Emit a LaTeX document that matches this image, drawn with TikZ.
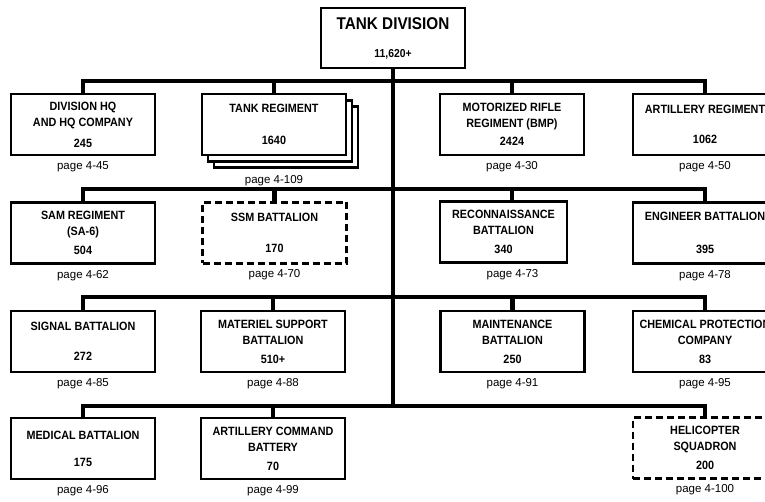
\documentclass[tikz,border=0pt]{standalone}
\usepackage{fontspec}
\setmainfont{Liberation Sans}
\newfontfamily\unitfont{Liberation Sans}[FakeStretch=0.9]
\usetikzlibrary{positioning}

\begin{document}
\begin{tikzpicture}[x=1pt, y=1pt,
    unit/.style={draw, fill=white, line width=2.6pt, minimum width=144pt, minimum height=61pt,
        inner sep=0pt, align=center, font=\unitfont\fontsize{12}{16}\selectfont\bfseries},
    planned/.style={unit, line width=2.2pt, dash pattern=on 7pt off 4pt},
    pagelbl/.style={inner sep=0pt, font=\fontsize{11.5}{13}\selectfont},
    bus/.style={line width=4.5pt, line join=miter}]

    \useasboundingbox (0,0) rectangle (765,-502);

    % Divisione
    \node[unit, minimum height=60pt] (div) at (393,-38)
        {{\fontsize{17}{18}\selectfont TANK DIVISION}\\[12pt]{\fontsize{11.5}{14}\selectfont 11,620+}};

    % Barre orizzontali
    \coordinate (b1) at (393,-81);
    \coordinate (b2) at (393,-189);
    \coordinate (b3) at (393,-297);
    \coordinate (b4) at (393,-406);

    % Prima fila
    \node[unit] (hq) at (83,-124.5) {DIVISION HQ\\AND HQ COMPANY\\[5pt]245};
    \node[unit] (tank3) at (286,-137) {};
    \node[unit] (tank2) at (280,-131) {};
    \node[unit] (tank) at (274,-124.5) {TANK REGIMENT\\[16pt]1640};
    \node[unit] (rifle) at (512,-124.5) {MOTORIZED RIFLE\\REGIMENT (BMP)\\[2pt]2424};
    \node[unit] (art) at (705,-124.5) {ARTILLERY REGIMENT\\[14pt]1062};

    \node[pagelbl, below=5pt of hq] (hqpg) {page 4-45};
    \node[pagelbl, below=6pt of tank3, xshift=-12pt] (tankpg) {page 4-109};
    \node[pagelbl, below=5pt of rifle] (riflepg) {page 4-30};
    \node[pagelbl, below=5pt of art] (artpg) {page 4-50};

    % Seconda fila
    \node[unit] (sam) at (83,-233) {SAM REGIMENT\\(SA-6)\\[3pt]504};
    \node[planned] (ssm) at (274.5,-233) {SSM BATTALION\\[15pt]170};
    \node[unit, minimum width=127pt] (recon) at (503.5,-232) {RECONNAISSANCE\\BATTALION\\[3pt]340};
    \node[unit] (eng) at (705,-233) {ENGINEER BATTALION\\[17pt]395};

    \node[pagelbl, below=5pt of sam] (sampg) {page 4-62};
    \node[pagelbl, below=5pt of ssm] (ssmpg) {page 4-70};
    \node[pagelbl, below=5pt of recon, xshift=9pt] (reconpg) {page 4-73};
    \node[pagelbl, below=5pt of eng] (engpg) {page 4-78};

    % Terza fila
    \node[unit] (sig) at (83,-341.5) {SIGNAL BATTALION\\[14pt]272};
    \node[unit] (mat) at (273,-341.5) {MATERIEL SUPPORT\\BATTALION\\[3pt]510+};
    \node[unit] (maint) at (512.5,-341.5) {MAINTENANCE\\BATTALION\\[3pt]250};
    \node[unit] (chem) at (705,-341.5) {CHEMICAL PROTECTION\\COMPANY\\[3pt]83};

    \node[pagelbl, below=5pt of sig] (sigpg) {page 4-85};
    \node[pagelbl, below=5pt of mat] (matpg) {page 4-88};
    \node[pagelbl, below=5pt of maint] (maintpg) {page 4-91};
    \node[pagelbl, below=5pt of chem] (chempg) {page 4-95};

    % Quarta fila
    \node[unit] (med) at (83,-448.5) {MEDICAL BATTALION\\[11pt]175};
    \node[unit] (acb) at (273,-448.5) {ARTILLERY COMMAND\\BATTERY\\[3pt]70};
    \node[planned] (heli) at (705,-448) {HELICOPTER\\SQUADRON\\[3pt]200};

    \node[pagelbl, below=5pt of med] (medpg) {page 4-96};
    \node[pagelbl, below=5pt of acb] (acbpg) {page 4-99};
    \node[pagelbl, below=5pt of heli] (helipg) {page 4-100};

    % Collegamenti
    \draw[bus] (div.south) -- (div.south |- b4);
    \draw[bus] (hq.north) |- (b1) -| (art.north);
    \draw[bus] (tank.north) -- (tank.north |- b1);
    \draw[bus] (rifle.north) -- (rifle.north |- b1);
    \draw[bus] (sam.north) |- (b2) -| (eng.north);
    \draw[bus] (ssm.north) -- (ssm.north |- b2);
    \draw[bus] (rifle.north |- recon.north) -- (rifle.north |- b2);
    \draw[bus] (sig.north) |- (b3) -| (chem.north);
    \draw[bus] (mat.north) -- (mat.north |- b3);
    \draw[bus] (maint.north) -- (maint.north |- b3);
    \draw[bus] (med.north) |- (b4) -| (heli.north);
    \draw[bus] (acb.north) -- (acb.north |- b4);
\end{tikzpicture}
\end{document}
